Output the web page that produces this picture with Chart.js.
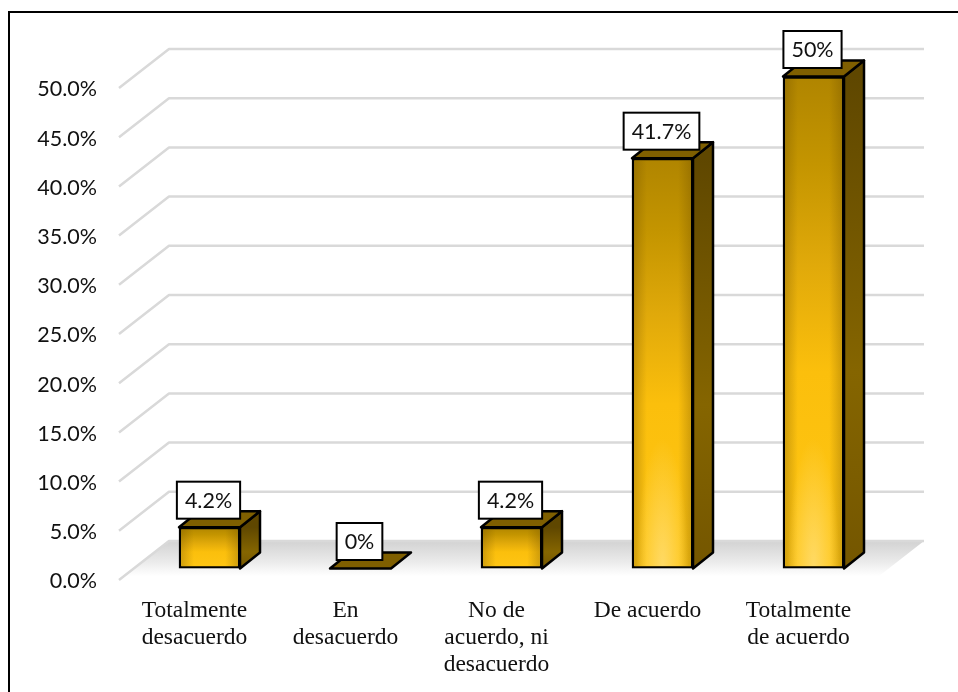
<!DOCTYPE html>
<html>
<head>
<meta charset="utf-8">
<style>
  html, body { margin: 0; padding: 0; background: #fff; }
  canvas { display: block; }
</style>
<script src="https://cdn.jsdelivr.net/npm/chart.js@4"></script>
</head>
<body>
<canvas id="chart" width="958" height="692"></canvas>
<script>
const categories = [
    ["Totalmente", "desacuerdo"],
    ["En", "desacuerdo"],
    ["No de", "acuerdo, ni", "desacuerdo"],
    ["De acuerdo"],
    ["Totalmente", "de acuerdo"],
];
const percentValues = [4.2, 0, 4.2, 41.7, 50];
const yTickValues = [0, 5, 10, 15, 20, 25, 30, 35, 40, 45, 50];

const depthX = 50, depthY = 39;     // floor/wall depth
const barShiftX = 15, barShiftY = -11.5;
const sideX = 20, sideY = 16;       // bar extrusion
const labelFont = "21.5px Lato";

const path = (ctx, pts) => {
    ctx.beginPath();
    pts.forEach(([x, y], i) => (i ? ctx.lineTo(x, y) : ctx.moveTo(x, y)));
    ctx.closePath();
};

const barGradient = (context) => {
    const chart = context.chart;
    if (!chart.chartArea || context.parsed === undefined) return "#d9a400";
    const y = chart.scales.y;
    const top = y.getPixelForValue(context.parsed.y);
    const bottom = y.getPixelForValue(0);
    const g = chart.ctx.createLinearGradient(0, top, 0, bottom + 0.01);
    g.addColorStop(0, "#b08500");
    g.addColorStop(0.18, "#c49500");
    g.addColorStop(0.38, "#e0a90a");
    g.addColorStop(0.6, "#fbbf0c");
    g.addColorStop(1, "#ffc614");
    return g;
};

const wallsPlugin = {
    id: "walls",
    beforeDraw(chart) {
        const { ctx, chartArea, scales } = chart;
        const { left, right } = chartArea;
        // only the top and left edges of the frame are in the picture
        ctx.save();
        ctx.fillStyle = "#000";
        ctx.fillRect(8, 11, 950, 2);
        ctx.fillRect(8, 11, 2, 681);
        // floor
        const y0 = scales.y.getPixelForValue(0);
        const floor = ctx.createLinearGradient(0, y0 - depthY, 0, y0 - 4);
        floor.addColorStop(0, "#d2d2d2");
        floor.addColorStop(0.6, "#ebebeb");
        floor.addColorStop(1, "#ffffff");
        path(ctx, [[left, y0], [left + depthX, y0 - depthY], [right + depthX, y0 - depthY], [right, y0]]);
        ctx.fillStyle = floor;
        ctx.fill();
        // grid lines run from the front edge to the back wall
        ctx.strokeStyle = "#d9d9d9";
        ctx.lineWidth = 2.5;
        ctx.lineJoin = "round";
        yTickValues.forEach((v) => {
            const y = scales.y.getPixelForValue(v);
            ctx.beginPath();
            ctx.moveTo(left, y);
            ctx.lineTo(left + depthX, y - depthY);
            ctx.lineTo(right + depthX, y - depthY);
            ctx.stroke();
        });
        ctx.restore();
    },
    beforeDatasetsDraw(chart) {
        const { ctx, scales } = chart;
        const y0 = scales.y.getPixelForValue(0);
        ctx.save();
        ctx.translate(barShiftX, barShiftY);
        ctx.strokeStyle = "#000";
        ctx.lineWidth = 2.5;
        ctx.lineJoin = "round";
        chart.getDatasetMeta(0).data.forEach((bar) => {
            const l = bar.x - bar.width / 2, r = bar.x + bar.width / 2, t = bar.y;
            if (y0 - t > 0.5) {
                const side = ctx.createLinearGradient(0, t, 0, y0);
                side.addColorStop(0, "#5f4700");
                side.addColorStop(0.6, "#856500");
                side.addColorStop(1, "#745600");
                path(ctx, [[r, t], [r + sideX, t - sideY], [r + sideX, y0 - sideY], [r, y0]]);
                ctx.fillStyle = side;
                ctx.fill();
                ctx.stroke();
            }
            path(ctx, [[l, t], [l + sideX, t - sideY], [r + sideX, t - sideY], [r, t]]);
            ctx.fillStyle = "#7f5f00";
            ctx.fill();
            ctx.stroke();
        });
        // leave the translate on so the library draws the front faces in the same plane
    },
    afterDatasetsDraw(chart) {
        const { ctx, scales } = chart;
        const y0 = scales.y.getPixelForValue(0);
        chart.getDatasetMeta(0).data.forEach((bar) => {
            const h = y0 - bar.y;
            if (h < 0.5) return;
            const l = bar.x - bar.width / 2 + 2.5, w = bar.width - 5;
            ctx.save();
            ctx.beginPath();
            ctx.rect(l, bar.y + 2.5, w, h - 5);
            ctx.clip();
            // darker left/right edges and a light spot at the foot, like Office's path fill
            const edge = ctx.createLinearGradient(l, 0, l + w, 0);
            edge.addColorStop(0, "rgba(100,70,0,0.28)");
            edge.addColorStop(0.22, "rgba(100,70,0,0)");
            edge.addColorStop(0.78, "rgba(100,70,0,0)");
            edge.addColorStop(1, "rgba(100,70,0,0.28)");
            ctx.fillStyle = edge;
            ctx.fillRect(l, bar.y, w, h);
            if (h > 100) {
                // elliptical glow: circular gradient squeezed into the bar width
                ctx.translate(bar.x, y0);
                ctx.scale(1, 5);
                const glow = ctx.createRadialGradient(0, 0, 0, 0, 0, 26);
                glow.addColorStop(0, "rgba(255,220,110,0.9)");
                glow.addColorStop(1, "rgba(255,220,110,0)");
                ctx.fillStyle = glow;
                ctx.fillRect(-w, -40, 2 * w, 40);
            }
            ctx.restore();
        });
        ctx.restore();
        // value boxes
        ctx.save();
        ctx.font = labelFont;
        ctx.textAlign = "center";
        ctx.textBaseline = "middle";
        chart.getDatasetMeta(0).data.forEach((bar, i) => {
            const text = percentValues[i] + "%";
            const w = ctx.measureText(text).width + 16, h = 37;
            const cx = bar.x + barShiftX - 1, bottom = bar.y + barShiftY - 8.5;
            ctx.fillStyle = "#fff";
            ctx.fillRect(cx - w / 2, bottom - h, w, h);
            ctx.strokeStyle = "#000";
            ctx.lineWidth = 2;
            ctx.strokeRect(cx - w / 2, bottom - h, w, h);
            ctx.fillStyle = "#111";
            ctx.fillText(text, cx, bottom - h / 2 + 1);
        });
        ctx.restore();
    },
};

new Chart(document.getElementById("chart"), {
    type: "bar",
    data: {
        labels: categories,
        datasets: [{
            data: percentValues,
            backgroundColor: barGradient,
            borderColor: "#000",
            borderWidth: 2.5,
            borderSkipped: false,
            barThickness: 61,
        }],
    },
    options: {
        responsive: false,
        animation: false,
        layout: { padding: { top: 88, right: 84, bottom: 0, left: 0 } },
        plugins: { legend: { display: false }, tooltip: { enabled: false } },
        scales: {
            x: {
                grid: { display: false },
                border: { display: false },
                ticks: {
                    color: "#111",
                    font: { family: "Liberation Serif", size: 23.5, lineHeight: 1.15 },
                    padding: 9,
                    maxRotation: 0,
                    autoSkip: false,
                },
                afterFit: (s) => { s.height = 112; },
            },
            y: {
                min: 0,
                max: 50,
                grid: { display: false },
                border: { display: false },
                afterBuildTicks: (s) => { s.ticks = yTickValues.map((value) => ({ value })); },
                ticks: {
                    color: "#111",
                    font: { family: "Lato", size: 21.5 },
                    padding: 14,
                    labelOffset: 1.5,
                    callback: (v) => v.toFixed(1) + "%",
                },
                afterFit: (s) => { s.width = 119; },
            },
        },
    },
    plugins: [wallsPlugin],
});
</script>
</body>
</html>
